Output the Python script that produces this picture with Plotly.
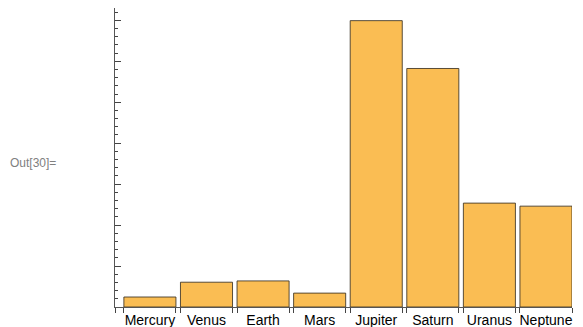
import numpy as np
import plotly.graph_objects as go

# equatorial radius in km
planets = ["Mercury", "Venus", "Earth", "Mars", "Jupiter", "Saturn", "Uranus", "Neptune"]
radius_km = [2440, 6052, 6371, 3390, 69911, 58232, 25362, 24622]

bar_w = 0.92
x_range = [-0.617, 7.46]
pos = np.arange(len(planets))
edges = np.sort(np.concatenate([[x_range[0]], pos - bar_w / 2, pos + bar_w / 2]))

fig = go.Figure()
fig.add_trace(go.Bar(
    x=pos,
    y=radius_km,
    width=bar_w,
    marker=dict(color="#FABD53", line=dict(color="rgba(60,50,35,0.85)", width=1)),
    hoverinfo="x+y",
))

# page body has an 8px margin, so the figure is a bit smaller than the window
fig.update_layout(
    width=575,
    height=319,
    margin=dict(l=107, r=11, t=0, b=20, autoexpand=False),
    plot_bgcolor="white",
    paper_bgcolor="white",
    showlegend=False,
    font=dict(family="Liberation Sans, Arial, sans-serif", size=14, color="black"),
    xaxis=dict(
        range=x_range,
        tickmode="array",
        tickvals=pos,
        ticktext=planets,
        ticks="",
        ticklabelstandoff=0,
        minor=dict(tickmode="array", tickvals=edges, ticks="outside", ticklen=5, tickcolor="#444"),
        showline=True,
        linecolor="#555",
        linewidth=1,
        showgrid=False,
        zeroline=False,
        fixedrange=True,
    ),
    yaxis=dict(
        range=[0, 73000],
        tickvals=list(range(0, 73000, 10000)),
        showticklabels=False,
        ticks="inside",
        ticklen=6,
        tickcolor="#444",
        minor=dict(dtick=2000, ticks="inside", ticklen=3, tickcolor="#444"),
        showline=True,
        linecolor="#555",
        linewidth=1,
        showgrid=False,
        zeroline=False,
        fixedrange=True,
    ),
)

fig.add_annotation(
    text="Out[30]=",
    xref="paper", yref="paper",
    x=-107 / 457, y=0.482,
    xanchor="left", yanchor="middle",
    showarrow=False,
    font=dict(size=12, color="#808080"),
)

fig.write_html("out.html")
